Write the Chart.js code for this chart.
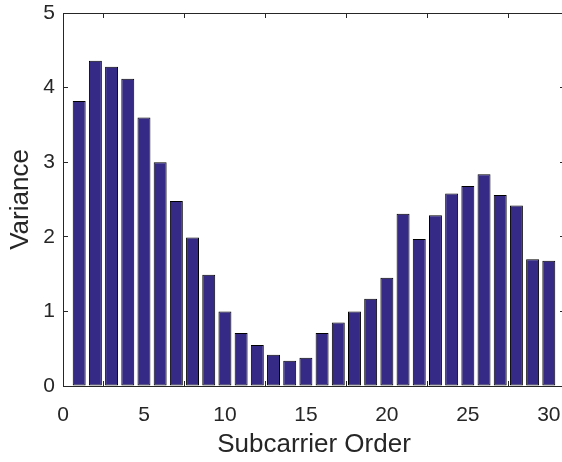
<!DOCTYPE html>
<html lang="en">
  <head>
    <meta charset="UTF-8" />
    <title>Subcarrier Variance</title>
    <style>
      html,
      body {
        margin: 0;
        padding: 0;
        background: #ffffff;
        overflow: hidden;
      }

      #chart {
        display: block;
      }
    </style>
    <script src="https://cdn.jsdelivr.net/npm/chart.js"></script>
  </head>
  <body>
    <canvas id="chart" width="570" height="462"></canvas>
    <script>
      const subcarriers = [
        1, 2, 3, 4, 5, 6, 7, 8, 9, 10, 11, 12, 13, 14, 15, 16, 17, 18, 19, 20,
        21, 22, 23, 24, 25, 26, 27, 28, 29, 30,
      ];
      const variance = [
        3.82, 4.36, 4.28, 4.12, 3.6, 3.0, 2.48, 1.99, 1.49, 1.0, 0.71, 0.55,
        0.42, 0.34, 0.38, 0.71, 0.85, 1.0, 1.17, 1.45, 2.31, 1.97, 2.29, 2.58,
        2.68, 2.84, 2.56, 2.42, 1.7, 1.68,
      ];
      const xTicks = [0, 5, 10, 15, 20, 25, 30];
      const yTicks = [0, 1, 2, 3, 4, 5];

      const ink = "#262626";
      const fontFamily = "'Liberation Sans', Arial, Helvetica, sans-serif";

      // inward tick marks on all four sides, no grid
      const gridOpts = {
        drawOnChartArea: false,
        drawTicks: true,
        tickLength: -5,
        color: ink,
        lineWidth: 1,
      };
      const borderOpts = { display: true, color: ink, width: 1 };

      const setTicks = (list) => (scale) => {
        scale.ticks = list.map((v) => ({ value: v }));
      };

      // fixed box sizes so the plot area stays put
      const fixHeight = (h) => (scale) => {
        scale.height = h;
        scale.paddingLeft = 0;
        scale.paddingRight = 0;
      };
      const fixWidth = (w) => (scale) => {
        scale.width = w;
        scale.paddingTop = 0;
        scale.paddingBottom = 0;
      };

      const ctx = document.getElementById("chart").getContext("2d");
      new Chart(ctx, {
        type: "bar",
        data: {
          datasets: [
            {
              data: subcarriers.map((s, i) => ({ x: s, y: variance[i] })),
              backgroundColor: "#352a86",
              borderColor: "#000000",
              borderWidth: 1,
              borderSkipped: false,
              barPercentage: 0.8,
              categoryPercentage: 1,
            },
          ],
        },
        options: {
          responsive: false,
          animation: false,
          devicePixelRatio: 1,
          layout: { padding: { top: 13, right: 5, bottom: 0, left: 0 } },
          plugins: {
            legend: { display: false },
            tooltip: { enabled: false },
          },
          scales: {
            x: {
              type: "linear",
              position: "bottom",
              min: 0,
              max: 31,
              offset: false,
              afterBuildTicks: setTicks(xTicks),
              afterFit: fixHeight(76),
              grid: gridOpts,
              border: borderOpts,
              ticks: {
                color: ink,
                padding: 22,
                maxRotation: 0,
                font: { family: fontFamily, size: 21 },
              },
              title: {
                display: true,
                text: "Subcarrier Order",
                color: ink,
                padding: { top: 0, bottom: 2 },
                font: { family: fontFamily, size: 26, lineHeight: 1.2 },
              },
            },
            x2: {
              type: "linear",
              position: "top",
              min: 0,
              max: 31,
              offset: false,
              afterBuildTicks: setTicks(xTicks),
              afterFit: fixHeight(0),
              grid: gridOpts,
              border: borderOpts,
              ticks: { display: false },
            },
            y: {
              type: "linear",
              position: "left",
              min: 0,
              max: 5,
              afterBuildTicks: setTicks(yTicks),
              afterFit: fixWidth(63),
              grid: gridOpts,
              border: borderOpts,
              ticks: {
                color: ink,
                padding: 13,
                font: { family: fontFamily, size: 21 },
              },
              title: {
                display: true,
                text: "Variance",
                color: ink,
                padding: { top: 5, bottom: 0 },
                font: { family: fontFamily, size: 26, lineHeight: 1.2 },
              },
            },
            y2: {
              type: "linear",
              position: "right",
              min: 0,
              max: 5,
              afterBuildTicks: setTicks(yTicks),
              afterFit: fixWidth(0),
              grid: gridOpts,
              border: borderOpts,
              ticks: { display: false },
            },
          },
        },
      });
    </script>
  </body>
</html>
